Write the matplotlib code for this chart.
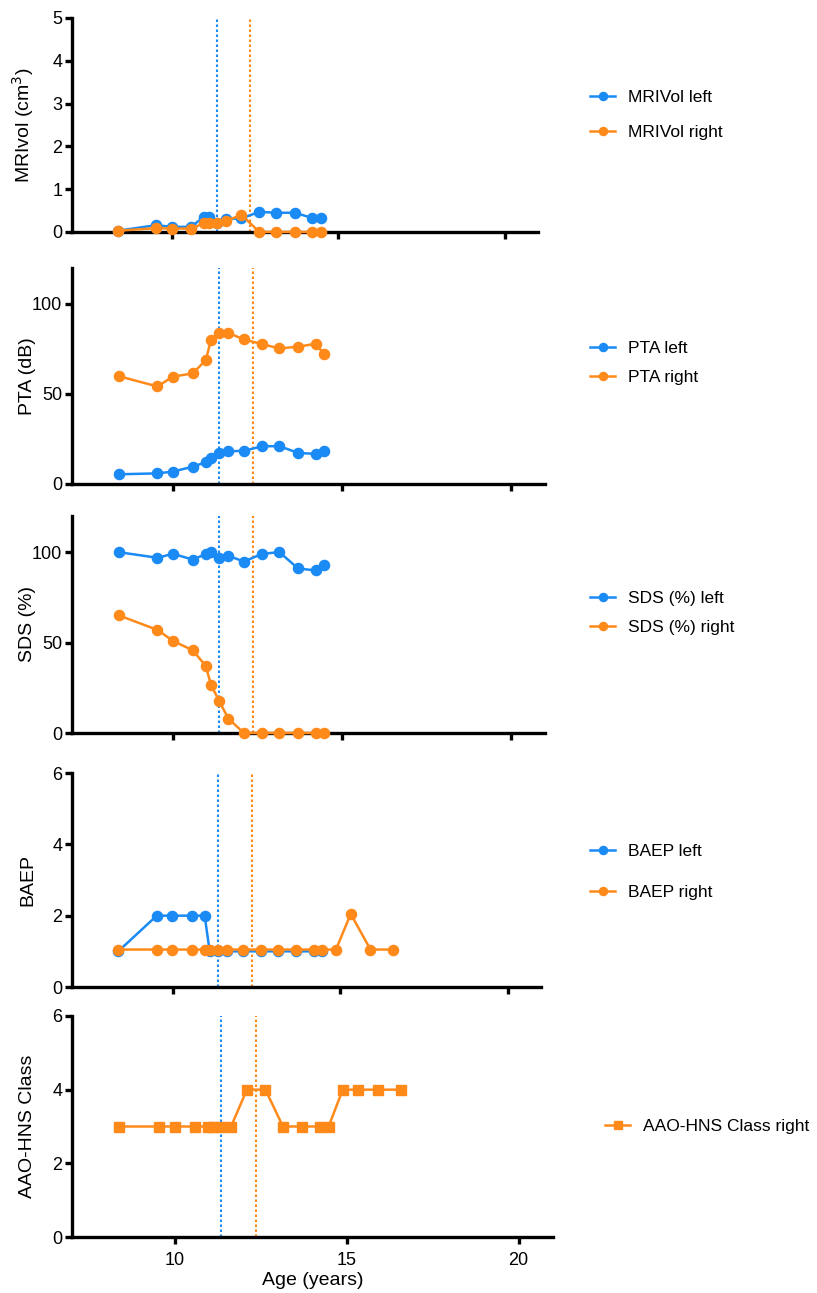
import numpy as np
import matplotlib
matplotlib.use("Agg")
import matplotlib.pyplot as plt

plt.rcParams['font.family'] = ['Liberation Sans', 'DejaVu Sans']

# ages (years) of the visits
age = [8.38, 9.53, 9.99, 10.57, 10.96, 11.11, 11.35, 11.63, 12.09, 12.63,
       13.14, 13.69, 14.21, 14.47, 14.88, 15.32, 15.91, 16.57]

mri_left = [0.03, 0.16, 0.12, 0.12, 0.35, 0.35, 0.20, 0.30, 0.32, 0.47, 0.45, 0.45, 0.33, 0.33]
mri_right = [0.03, 0.09, 0.08, 0.08, 0.20, 0.20, 0.21, 0.26, 0.40, 0.0, 0.0, 0.0, 0.0, 0.0]

pta_left = [5.4, 5.9, 6.9, 9.6, 12.1, 14.3, 17.1, 18.2, 18.4, 21.0, 21.0, 17.3, 16.7, 18.4]
pta_right = [59.9, 54.2, 59.7, 61.4, 68.8, 79.8, 83.9, 83.9, 80.3, 77.7, 75.3, 76.3, 77.9, 72.0]

sds_left = [100, 96.9, 99.1, 95.9, 98.9, 100, 96.9, 98, 94.8, 99.1, 100, 91, 89.9, 93]
sds_right = [65.1, 57, 50.9, 45.8, 37.1, 26.8, 17.9, 7.9, 0, 0, 0, 0, 0, 0]

baep_left = [1, 2, 2, 2, 2, 1, 1, 1, 1, 1, 1, 1, 1, 1]
baep_right = [1.05, 1.05, 1.05, 1.05, 1.05, 1.05, 1.05, 1.05, 1.05, 1.05, 1.05, 1.05, 1.05, 1.05,
              1.05, 2.05, 1.05, 1.05]

aao_right = [3, 3, 3, 3, 3, 3, 3, 3, 4, 4, 3, 3, 3, 3, 4, 4, 4, 4]

surgery_left = 11.35
surgery_right = 12.36

blue = '#1A8AF5'
orange = '#FF8A1A'

W, H = 817, 1293
fig = plt.figure(figsize=(W / 100, H / 100), dpi=100)

# panel boxes in pixels: x0, x1, ytop, ybot
boxes = [(72, 538, 18, 232), (72, 545, 268, 484), (72, 545, 516, 733),
         (72, 541, 773, 987), (72, 553, 1016, 1237)]

panels = [
    ("MRIvol (cm$^3$)", (0, 5), [0, 1, 2, 3, 4, 5],
     [(mri_left, blue, 'o', "MRIVol left"), (mri_right, orange, 'o', "MRIVol right")], 35),
    ("PTA (dB)", (0, 120), [0, 50, 100],
     [(pta_left, blue, 'o', "PTA left"), (pta_right, orange, 'o', "PTA right")], 30),
    ("SDS (%)", (0, 120), [0, 50, 100],
     [(sds_left, blue, 'o', "SDS (%) left"), (sds_right, orange, 'o', "SDS (%) right")], 30),
    ("BAEP", (0, 6), [0, 2, 4, 6],
     [(baep_left, blue, 'o', "BAEP left"), (baep_right, orange, 'o', "BAEP right")], 41),
    ("AAO-HNS Class", (0, 6), [0, 2, 4, 6],
     [(aao_right, orange, 's', "AAO-HNS Class right")], 30),
]

legend_pos = [(590, 115), (590, 363), (590, 613), (590, 872), (605, 1126)]
lfs = 12.5
lpx = lfs / 72 * 100

for i, ((x0, x1, yt, yb), (ylab, ylim, yticks, series, rowgap)) in enumerate(zip(boxes, panels)):
    ax = fig.add_axes([x0 / W, 1 - yb / H, (x1 - x0) / W, (yb - yt) / H])
    ax.axvline(surgery_left, color=blue, ls=(0, (1.2, 1.2)), lw=1.5, zorder=1)
    ax.axvline(surgery_right, color=orange, ls=(0, (1.2, 1.2)), lw=1.5, zorder=1)
    for vals, col, mk, lab in series:
        ax.plot(age[:len(vals)], vals, color=col, marker=mk, ms=7.3, lw=1.8,
                label=lab, clip_on=False, zorder=3)
    ax.set_xlim(7, 21)
    ax.set_ylim(*ylim)
    ax.set_xticks([10, 15, 20])
    ax.set_yticks(yticks)
    for s in ['top', 'right']:
        ax.spines[s].set_visible(False)
    for s in ['left', 'bottom']:
        ax.spines[s].set_linewidth(2.4)
    ax.tick_params(width=2.4, length=5, labelsize=13, pad=2)
    ax.tick_params(axis='x', pad=6)
    if i < 4:
        ax.tick_params(axis='x', labelbottom=False)
    else:
        ax.set_xlabel("Age (years)", fontsize=14, labelpad=2)
    ax.set_ylabel(ylab, fontsize=14)
    ax.yaxis.set_label_coords(-36 / (x1 - x0), 0.5)

    lx, ly = legend_pos[i]
    ax.legend(loc='center left', bbox_to_anchor=(lx / W, 1 - ly / H),
              bbox_transform=fig.transFigure, frameon=False, fontsize=lfs,
              handlelength=25 / lpx, handletextpad=13 / lpx, borderpad=0, borderaxespad=0,
              labelspacing=(rowgap - 16) / lpx, markerscale=0.8)

fig.savefig("out.png", dpi=100)
